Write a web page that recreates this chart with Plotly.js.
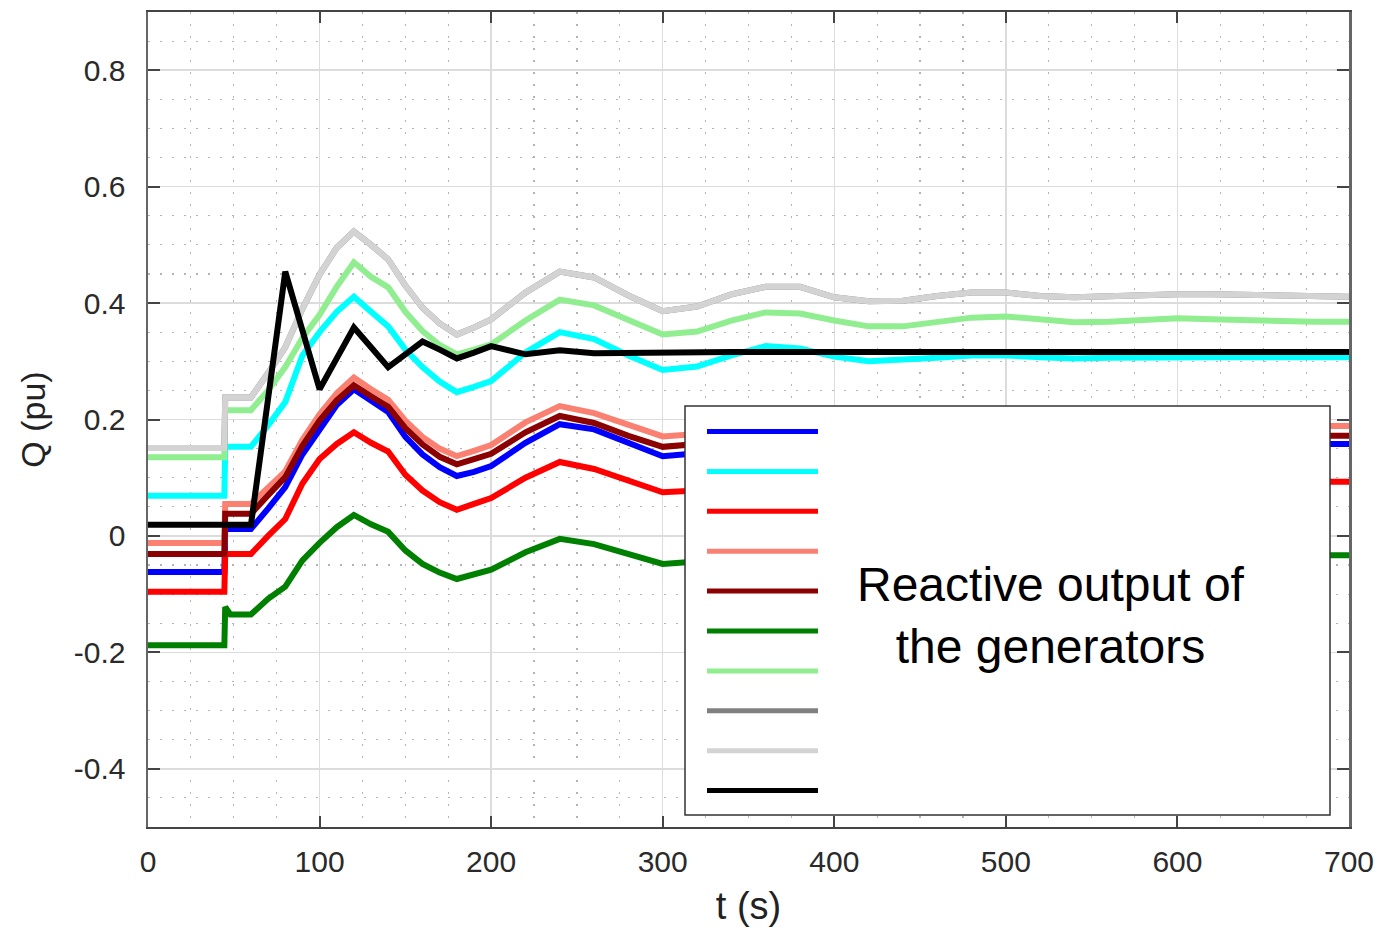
<!DOCTYPE html>
<html>
<head>
<meta charset="utf-8">
<script src="https://cdn.plot.ly/plotly-3.0.1.min.js"></script>
<style>
  html, body { margin: 0; padding: 0; background: #ffffff; }
  #chart { width: 1381px; height: 930px; }
</style>
</head>
<body>
<div id="chart"></div>
<script>
// ---- Data ----
const time = [0, 44.5, 45, 48, 60, 70, 80, 90, 100, 110, 120, 130, 140, 150, 160, 170, 180, 190, 200,
  220, 240, 260, 280, 300, 320, 340, 360, 380, 400, 420, 440, 460, 480, 500, 520, 540, 560, 580, 600, 620, 640, 660, 680, 700];

const qBlue = [-0.062, -0.062, 0.012, 0.012, 0.012,
  0.047, 0.084, 0.140, 0.183, 0.225, 0.252, 0.232, 0.213, 0.170, 0.140, 0.118, 0.103, 0.110, 0.120,
  0.160, 0.192, 0.183, 0.160, 0.137, 0.142, 0.160, 0.172, 0.170, 0.158, 0.150, 0.151, 0.156, 0.161, 0.162, 0.158, 0.155, 0.156, 0.159, 0.160, 0.159, 0.158, 0.158, 0.158, 0.158];

const qCyan = [0.069, 0.069, 0.153, 0.153, 0.153,
  0.190, 0.230, 0.310, 0.350, 0.385, 0.411, 0.385, 0.360, 0.320, 0.290, 0.265, 0.247, 0.256, 0.266,
  0.315, 0.350, 0.338, 0.310, 0.285, 0.291, 0.310, 0.326, 0.322, 0.308, 0.300, 0.302, 0.306, 0.310, 0.310, 0.307, 0.305, 0.306, 0.307, 0.307, 0.307, 0.307, 0.307, 0.307, 0.307];

const qRed = [-0.096, -0.096, -0.031, -0.031, -0.031,
  0.000, 0.029, 0.090, 0.132, 0.158, 0.178, 0.160, 0.145, 0.105, 0.078, 0.058, 0.045, 0.055, 0.065,
  0.100, 0.127, 0.115, 0.094, 0.075, 0.078, 0.092, 0.102, 0.100, 0.092, 0.087, 0.088, 0.090, 0.093, 0.094, 0.092, 0.091, 0.092, 0.093, 0.093, 0.093, 0.093, 0.093, 0.093, 0.093];

const qSalmon = [-0.012, -0.012, 0.055, 0.055, 0.055,
  0.083, 0.111, 0.165, 0.209, 0.245, 0.272, 0.252, 0.234, 0.198, 0.170, 0.150, 0.137, 0.146, 0.156,
  0.195, 0.223, 0.211, 0.190, 0.171, 0.175, 0.190, 0.200, 0.198, 0.190, 0.183, 0.184, 0.187, 0.190, 0.191, 0.189, 0.187, 0.188, 0.190, 0.190, 0.190, 0.189, 0.189, 0.189, 0.189];

const qDarkRed = [-0.031, -0.031, 0.038, 0.038, 0.038,
  0.070, 0.101, 0.155, 0.198, 0.233, 0.259, 0.240, 0.222, 0.185, 0.157, 0.136, 0.123, 0.132, 0.141,
  0.178, 0.206, 0.194, 0.172, 0.153, 0.158, 0.175, 0.186, 0.184, 0.173, 0.166, 0.167, 0.171, 0.175, 0.176, 0.173, 0.170, 0.171, 0.173, 0.174, 0.173, 0.172, 0.172, 0.172, 0.172];

const qGreen = [-0.188, -0.188, -0.122, -0.135, -0.135,
  -0.108, -0.087, -0.042, -0.012, 0.015, 0.036, 0.020, 0.007, -0.025, -0.048, -0.063, -0.074, -0.066, -0.058,
  -0.028, -0.005, -0.014, -0.032, -0.048, -0.044, -0.035, -0.028, -0.030, -0.036, -0.040, -0.039, -0.036, -0.033, -0.032, -0.034, -0.035, -0.034, -0.033, -0.033, -0.033, -0.033, -0.033, -0.033, -0.033];

const qLightGreen = [0.135, 0.135, 0.216, 0.216, 0.216,
  0.250, 0.290, 0.340, 0.380, 0.428, 0.470, 0.445, 0.427, 0.385, 0.352, 0.328, 0.312, 0.320, 0.329,
  0.370, 0.406, 0.396, 0.370, 0.346, 0.351, 0.370, 0.384, 0.382, 0.370, 0.360, 0.360, 0.367, 0.375, 0.377, 0.373, 0.367, 0.368, 0.372, 0.374, 0.372, 0.370, 0.369, 0.368, 0.368];

const qGray = [0.151, 0.151, 0.238, 0.238, 0.238,
  0.280, 0.324, 0.390, 0.449, 0.495, 0.523, 0.500, 0.475, 0.430, 0.392, 0.365, 0.346, 0.358, 0.372,
  0.418, 0.454, 0.444, 0.413, 0.386, 0.394, 0.415, 0.428, 0.428, 0.410, 0.403, 0.404, 0.412, 0.418, 0.418, 0.412, 0.410, 0.412, 0.415, 0.415, 0.415, 0.414, 0.411, 0.411, 0.411];

const qLightGray = [0.151, 0.151, 0.238, 0.238, 0.238,
  0.280, 0.324, 0.390, 0.449, 0.495, 0.523, 0.500, 0.475, 0.430, 0.392, 0.365, 0.346, 0.358, 0.372,
  0.418, 0.454, 0.444, 0.413, 0.386, 0.394, 0.415, 0.428, 0.428, 0.410, 0.403, 0.404, 0.412, 0.418, 0.418, 0.412, 0.410, 0.412, 0.415, 0.415, 0.415, 0.414, 0.411, 0.411, 0.411];

const qBlack = [0.019, 0.019, 0.019, 0.019, 0.019,
  0.236, 0.454, 0.353, 0.252, 0.305, 0.358, 0.324, 0.290, 0.312, 0.334, 0.320, 0.305, 0.315, 0.326,
  0.312, 0.319, 0.314, 0.315, 0.316, 0.316, 0.316, 0.316, 0.316, 0.316, 0.316, 0.316, 0.316, 0.316, 0.316, 0.316, 0.316, 0.316, 0.316, 0.316, 0.316, 0.316, 0.316, 0.316, 0.316];

const seriesNames = ['Gen 1', 'Gen 2', 'Gen 3', 'Gen 4', 'Gen 5', 'Gen 6', 'Gen 7', 'Gen 8', 'Gen 9', 'Gen 10'];
const seriesColors = ['#0000ff', '#00ffff', '#ff0000', '#fa8072', '#8b0000', '#008000', '#90ee90', '#808080', '#d3d3d3', '#000000'];
const seriesValues = [qBlue, qCyan, qRed, qSalmon, qDarkRed, qGreen, qLightGreen, qGray, qLightGray, qBlack];

const xTickVals = [0, 100, 200, 300, 400, 500, 600, 700];
const xTickText = ['0', '100', '200', '300', '400', '500', '600', '700'];
const yTickVals = [-0.4, -0.2, 0, 0.2, 0.4, 0.6, 0.8];
const yTickText = ['-0.4', '-0.2', '0', '0.2', '0.4', '0.6', '0.8'];

const legendText = 'Reactive output of<br>the generators';

// ---- Traces ----
const traces = seriesValues.map((vals, i) => ({
  type: 'scatter',
  mode: 'lines',
  x: time,
  y: vals,
  name: seriesNames[i],
  line: { color: seriesColors[i], width: 6, shape: 'linear' },
  showlegend: false,
  hoverinfo: 'x+y+name'
}));

// ---- Legend-like box drawn as decoration (paper coordinates) ----
const plotLeft = 148, plotRight = 1349, plotTop = 12, plotBottom = 827;
const pw = plotRight - plotLeft, ph = plotBottom - plotTop;
const px2x = p => (p - plotLeft) / pw;
const py2y = p => (plotBottom - p) / ph;

const shapes = [{
  type: 'rect', xref: 'paper', yref: 'paper', layer: 'above',
  x0: px2x(685), x1: px2x(1330), y0: py2y(815), y1: py2y(406),
  fillcolor: '#ffffff', line: { color: '#333333', width: 1.5 }
}];
seriesColors.forEach((c, i) => {
  const yy = py2y(431.5 + 39.9 * i);
  shapes.push({
    type: 'line', xref: 'paper', yref: 'paper', layer: 'above',
    x0: px2x(707), x1: px2x(818), y0: yy, y1: yy,
    line: { color: c, width: 5 }
  });
});

const fontFam = '"Liberation Sans", Arial, Helvetica, sans-serif';

const layout = {
  width: 1381,
  height: 930,
  margin: { l: plotLeft, r: 1381 - plotRight, t: plotTop, b: 930 - plotBottom, pad: 0 },
  paper_bgcolor: '#ffffff',
  plot_bgcolor: '#ffffff',
  font: { family: fontFam, color: '#222222' },
  xaxis: {
    range: [0, 700],
    tickmode: 'array',
    tickvals: xTickVals,
    ticktext: xTickText,
    ticks: 'inside',
    ticklen: 11,
    tickwidth: 2,
    tickcolor: '#444444',
    showline: true,
    linecolor: '#444444',
    linewidth: 2,
    mirror: 'ticks',
    showgrid: true,
    gridcolor: '#dcdcdc',
    gridwidth: 1.5,
    zeroline: false,
    minor: { dtick: 25, tick0: 0, showgrid: true, gridcolor: '#b4b4b4', griddash: '2px,10px', gridwidth: 1.2 },
    tickfont: { family: fontFam, size: 30, color: '#2a2a2a' },
    ticklabelstandoff: 7,
    title: { text: 't (s)', font: { family: fontFam, size: 38, color: '#222222' }, standoff: 15 }
  },
  yaxis: {
    range: [-0.5, 0.9],
    tickmode: 'array',
    tickvals: yTickVals,
    ticktext: yTickText,
    ticks: 'inside',
    ticklen: 12,
    tickwidth: 2,
    tickcolor: '#444444',
    showline: true,
    linecolor: '#666666',
    linewidth: 2.5,
    mirror: 'ticks',
    showgrid: true,
    gridcolor: '#dcdcdc',
    gridwidth: 1.5,
    zeroline: false,
    minor: { dtick: 0.05, tick0: 0, showgrid: true, gridcolor: '#b4b4b4', griddash: '2px,10px', gridwidth: 1.2 },
    tickfont: { family: fontFam, size: 30, color: '#2a2a2a' },
    ticklabelstandoff: 14,
    title: { text: 'Q (pu)', font: { family: fontFam, size: 34, color: '#222222' }, standoff: 18 }
  },
  shapes: shapes,
  annotations: [{
    xref: 'paper', yref: 'paper',
    x: px2x(1051), y: py2y(615),
    xanchor: 'center', yanchor: 'middle',
    text: legendText,
    showarrow: false,
    align: 'center',
    font: { family: fontFam, size: 48, color: '#000000' }
  }],
  showlegend: false
};

Plotly.newPlot('chart', traces, layout, { displayModeBar: false, staticPlot: true });
</script>
</body>
</html>
